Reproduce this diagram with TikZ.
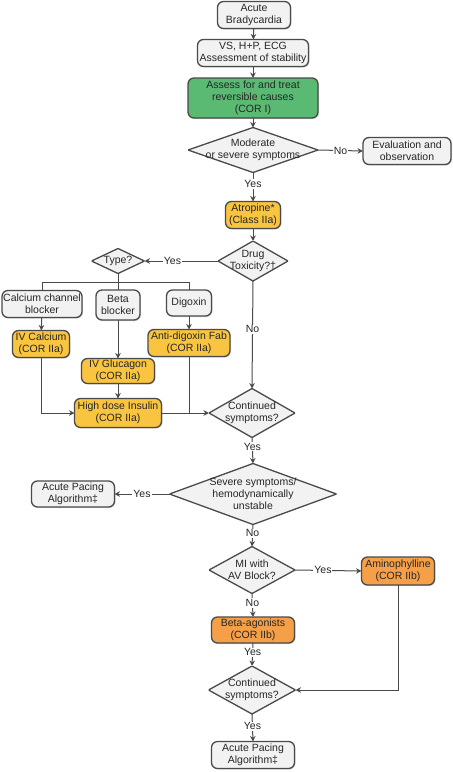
\documentclass[tikz,border=0pt]{standalone}
\usepackage{fontspec}
\setmainfont{Liberation Sans}
\usetikzlibrary{arrows.meta,shadows}
\definecolor{linea}{HTML}{4A4A4A}
\definecolor{grigio}{HTML}{F2F2F2}
\definecolor{verde}{HTML}{5AB973}
\definecolor{giallo}{HTML}{F9C440}
\definecolor{arancio}{HTML}{F5A048}

\begin{document}
\begin{tikzpicture}[x=1pt, y=-1pt, font=\fontsize{10.5}{12}\selectfont, text=black!85,
    box/.style={draw=linea, line width=1.3pt, fill=grigio, rounded corners=6pt, align=center, inner sep=1pt, outer sep=0pt, drop shadow={shadow xshift=1pt, shadow yshift=-1pt, opacity=0.3}},
    dec/.style={align=center, inner sep=0pt, outer sep=0pt, path picture={\draw[draw=linea, line width=1.3pt, fill=grigio] (path picture bounding box.north) -- (path picture bounding box.east) -- (path picture bounding box.south) -- (path picture bounding box.west) -- cycle;}},
    tratto/.style={draw=linea, line width=1pt},
    freccia/.style={tratto, -{Stealth[length=5.5pt, width=5.5pt]}},
    lab/.style={fill=white, inner sep=1pt}]
    \useasboundingbox (0,0) rectangle (453,772);
    \node[box, minimum width=73pt, minimum height=27pt] (AB) at (254,15) {Acute\\Bradycardia};
    \node[box, minimum width=111pt, minimum height=27pt] (VS) at (253,53) {VS, H+P, ECG\\Assessment of stability};
    \node[box, fill=verde, minimum width=130pt, minimum height=40pt] (RC) at (253,98) {Assess for and treat\\reversible causes\\(COR I)};
    \node[dec, minimum width=130pt, minimum height=45pt] (MS) at (253,150) {Moderate\\or severe symptoms};
    \node[box, minimum width=88pt, minimum height=27pt] (EO) at (407,151) {Evaluation and\\observation};
    \node[box, fill=giallo, minimum width=55pt, minimum height=27pt] (AT) at (253,215) {Atropine*\\(Class IIa)};
    \node[dec, minimum width=70pt, minimum height=40pt] (DT) at (253,261) {Drug\\Toxicity?†};
    \node[dec, minimum width=53pt, minimum height=25pt] (TY) at (118,261) {Type?};
    %FARMACI
    \node[box, minimum width=80pt, minimum height=27pt] (CC) at (42,304) {Calcium channel\\blocker};
    \node[box, minimum width=44pt, minimum height=30pt] (BB) at (118,305) {Beta\\blocker};
    \node[box, minimum width=45pt, minimum height=26pt] (DG) at (189,303) {Digoxin};
    \node[box, fill=giallo, minimum width=57pt, minimum height=27pt] (IC) at (41,344) {IV Calcium\\(COR IIa)};
    \node[box, fill=giallo, minimum width=82pt, minimum height=27pt] (AF) at (189,343) {Anti-digoxin Fab\\(COR IIa)};
    \node[box, fill=giallo, minimum width=73pt, minimum height=25pt] (IG) at (118,371) {IV Glucagon\\(COR IIa)};
    \node[box, fill=giallo, minimum width=87pt, minimum height=29pt] (HI) at (118,413) {High dose Insulin\\(COR IIa)};
    \node[dec, minimum width=86pt, minimum height=49pt] (CS) at (252,413) {Continued\\symptoms?};
    \node[dec, minimum width=167pt, minimum height=61pt] (SS) at (253,494) {Severe symptoms/\\hemodynamically\\unstable};
    \node[box, minimum width=83pt, minimum height=26pt] (AP) at (73,494) {Acute Pacing\\Algorithm‡};
    \node[dec, minimum width=86pt, minimum height=47pt] (MI) at (252,570) {MI with\\AV Block?};
    \node[box, fill=arancio, minimum width=73pt, minimum height=28pt] (AM) at (398,571) {Aminophylline\\(COR IIb)};
    \node[box, fill=arancio, minimum width=83pt, minimum height=26pt] (BA) at (253,630) {Beta-agonists\\(COR IIb)};
    \node[dec, minimum width=87pt, minimum height=48pt] (CT) at (252,690) {Continued\\symptoms?};
    \node[box, minimum width=83pt, minimum height=27pt] (AQ) at (253,755) {Acute Pacing\\Algorithm‡};
    \draw[freccia] (AB) -- (VS);
    \draw[freccia] (VS) -- (RC);
    \draw[freccia] (RC) -- (MS.north);
    \draw[freccia] (MS.east) -- node[lab]{No} (EO.west);
    \draw[freccia] (MS.south) -- node[lab, pos=0.4]{Yes} (AT.north);
    \draw[freccia] (AT) -- (DT.north);
    \draw[freccia] (DT.west) -- node[lab, pos=0.62]{Yes} (TY.east);
    \draw[tratto] (TY.south) -- ++(0,9) coordinate (J);
    \draw[tratto] (J) -| (CC.north);
    \draw[tratto] (J) -- (BB.north);
    \draw[tratto] (J) -| (DG.north);
    \draw[freccia] (CC) -- (IC);
    \draw[freccia] (BB) -- (IG);
    \draw[freccia] (DG) -- (AF);
    \draw[freccia] (IG) -- (HI);
    \draw[freccia] (IC.south) |- (HI.west);
    \draw[freccia] (HI.east) -- (CS.west);
    \draw[tratto] (AF.south) -- (AF.south |- CS.west);
    \draw[freccia] (DT.south) -- node[lab, pos=0.45]{No} (CS.north);
    \draw[freccia] (CS.south) -- node[lab, pos=0.35]{Yes} (SS.north);
    \draw[freccia] (SS.west) -- node[lab]{Yes} (AP.east);
    \draw[freccia] (SS.south) -- node[lab, pos=0.4]{No} (MI.north);
    \draw[freccia] (MI.east) -- node[lab, pos=0.42]{Yes} (AM.west);
    \draw[freccia] (MI.south) -- node[lab, pos=0.4]{No} (BA.north);
    \draw[freccia] (BA.south) -- node[lab, pos=0.4]{Yes} (CT.north);
    \draw[freccia] (AM.south) |- (CT.east);
    \draw[freccia] (CT.south) -- node[lab, pos=0.45]{Yes} (AQ.north);
\end{tikzpicture}
\end{document}
